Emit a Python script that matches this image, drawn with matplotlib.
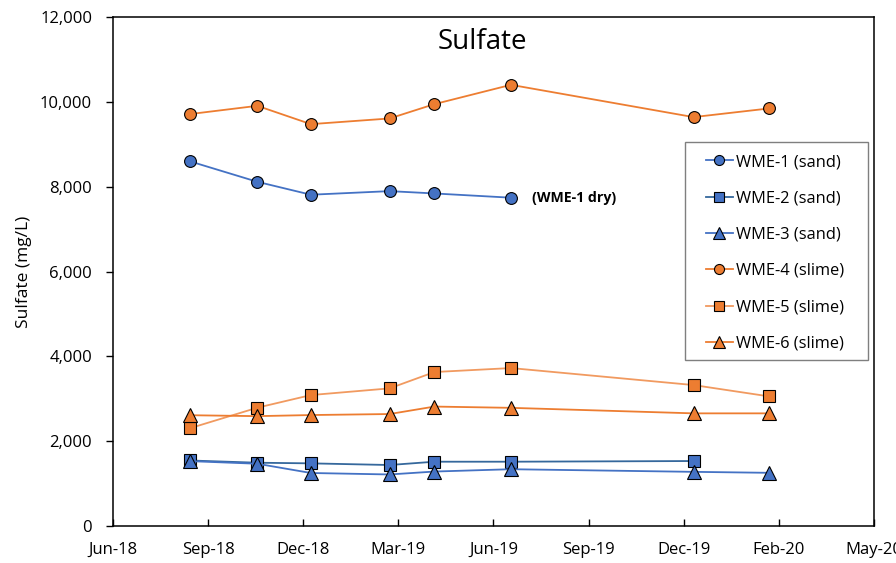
import matplotlib.pyplot as plt
import matplotlib.dates as mdates
from matplotlib.patches import Rectangle
import pandas as pd

plt.rcParams['font.family'] = ['Open Sans', 'DejaVu Sans']

dates = pd.to_datetime(['2018-09-06', '2018-11-07', '2018-12-26', '2019-03-08',
                        '2019-04-18', '2019-06-27', '2019-12-11', '2020-02-18'])

wme1 = [8600, 8115, 7810, 7895, 7840, 7740]
wme2 = [1545, 1492, 1477, 1438, 1516, 1516, 1532]
wme3 = [1530, 1468, 1250, 1215, 1284, 1339, 1277, 1254]
wme4 = [9710, 9906, 9474, 9608, 9946, 10401, 9640, 9844]
wme5 = [2302, 2789, 3087, 3245, 3630, 3724, 3323, 3056]
wme6 = [2612, 2590, 2616, 2640, 2816, 2786, 2656, 2656]

blue = '#4472C4'
orange = '#ED7D31'

fig = plt.figure(figsize=(8.96, 5.63), dpi=100)
ax = fig.add_axes([0.1261, 0.0657, 0.8493, 0.9041])

ms = 8.5
ax.plot(dates[:6], wme1, '-o', color=blue, mfc=blue, mec='black', mew=0.8, ms=ms, lw=1.3, label='WME-1 (sand)')
ax.plot(dates[:7], wme2, '-s', color='#35689C', mfc=blue, mec='black', mew=0.8, ms=ms - 0.5, lw=1.3, label='WME-2 (sand)')
ax.plot(dates, wme3, '-^', color=blue, mfc=blue, mec='black', mew=0.8, ms=ms + 1, lw=1.3, label='WME-3 (sand)')
ax.plot(dates, wme4, '-o', color=orange, mfc=orange, mec='black', mew=0.8, ms=ms, lw=1.3, label='WME-4 (slime)')
ax.plot(dates, wme5, '-s', color='#F19A60', mfc=orange, mec='black', mew=0.8, ms=ms - 0.5, lw=1.3, label='WME-5 (slime)')
ax.plot(dates, wme6, '-^', color=orange, mfc=orange, mec='black', mew=0.8, ms=ms + 1, lw=1.3, label='WME-6 (slime)')

ax.text(dates[5] + pd.Timedelta(days=19), wme1[5], '(WME-1 dry)', fontsize=10.2,
        fontweight='bold', va='center', ha='left')

ticks = pd.date_range('2018-06-28', periods=9, freq='87D')
ax.set_xlim(ticks[0], ticks[-1])
ax.set_xticks(ticks)
ax.xaxis.set_major_formatter(mdates.DateFormatter('%b-%y'))
ax.set_ylim(0, 12000)
ax.set_yticks(range(0, 12001, 2000))
ax.yaxis.set_major_formatter(plt.FuncFormatter(lambda v, p: f'{int(v):,}'))

ax.tick_params(axis='x', direction='in', length=5, width=1, labelsize=12, pad=11.5)
ax.tick_params(axis='y', direction='out', length=5, width=1, labelsize=12, pad=10)
for s in ax.spines.values():
    s.set_linewidth(1.1)
    s.set_color('black')

ax.set_ylabel('Sulfate (mg/L)', fontsize=12.5, labelpad=6)
ax.text(0.485, 0.951, 'Sulfate', transform=ax.transAxes, ha='center', va='center', fontsize=20)

ax.add_patch(Rectangle((0.7516, 0.326), 0.2405, 0.4277, transform=ax.transAxes,
                       fill=True, facecolor='white', edgecolor='#7f7f7f', lw=1.0, zorder=4))
leg = ax.legend(loc='upper left', bbox_to_anchor=((706 - 113) / 761, (526 - 154) / 509),
                borderaxespad=0, borderpad=0, frameon=False,
                fontsize=11.8, labelspacing=1.24, handlelength=1.65, handletextpad=0.2,
                markerscale=0.85)
leg.set_zorder(5)

fig.savefig('out.png', dpi=100)
